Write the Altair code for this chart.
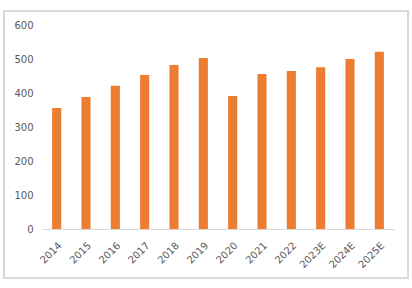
import altair as alt
import pandas as pd

years = ["2014", "2015", "2016", "2017", "2018", "2019", "2020", "2021", "2022", "2023E", "2024E", "2025E"]
values = [356, 388, 421, 453, 482, 503, 391, 456, 465, 476, 500, 521]

df = pd.DataFrame({"year": years, "value": values})

bars = alt.Chart(df).mark_bar(color="#ED7D31").encode(
    x=alt.X("year:N", sort=years,
            scale=alt.Scale(paddingInner=0.69, paddingOuter=0.345),
            axis=alt.Axis(title=None, labelAngle=-45, labelFont="DejaVu Sans", labelFontSize=10,
                          labelColor="#595959", ticks=False, domainColor="#D9D9D9",
                          labelPadding=11)),
    y=alt.Y("value:Q", scale=alt.Scale(domain=[0, 600], nice=False),
            axis=alt.Axis(title=None, values=[0, 100, 200, 300, 400, 500, 600], grid=False,
                          domain=False, ticks=False, labelFont="DejaVu Sans", labelFontSize=10,
                          labelColor="#595959", labelPadding=9)),
)

border = alt.Chart(df).mark_rect(fill=None, stroke="#D9D9D9", strokeWidth=1.2, clip=False).encode(
    x=alt.value(-38), x2=alt.value(366), y=alt.value(-14), y2=alt.value(253)
)

chart = alt.layer(border, bars).properties(
    width=352, height=204,
    padding={"left": 42, "top": 25, "right": 18, "bottom": 59},
    autosize=alt.AutoSizeParams(type="none"),
).configure_view(stroke=None)

chart.save("out.html", embed_options={"renderer": "svg", "actions": False})
